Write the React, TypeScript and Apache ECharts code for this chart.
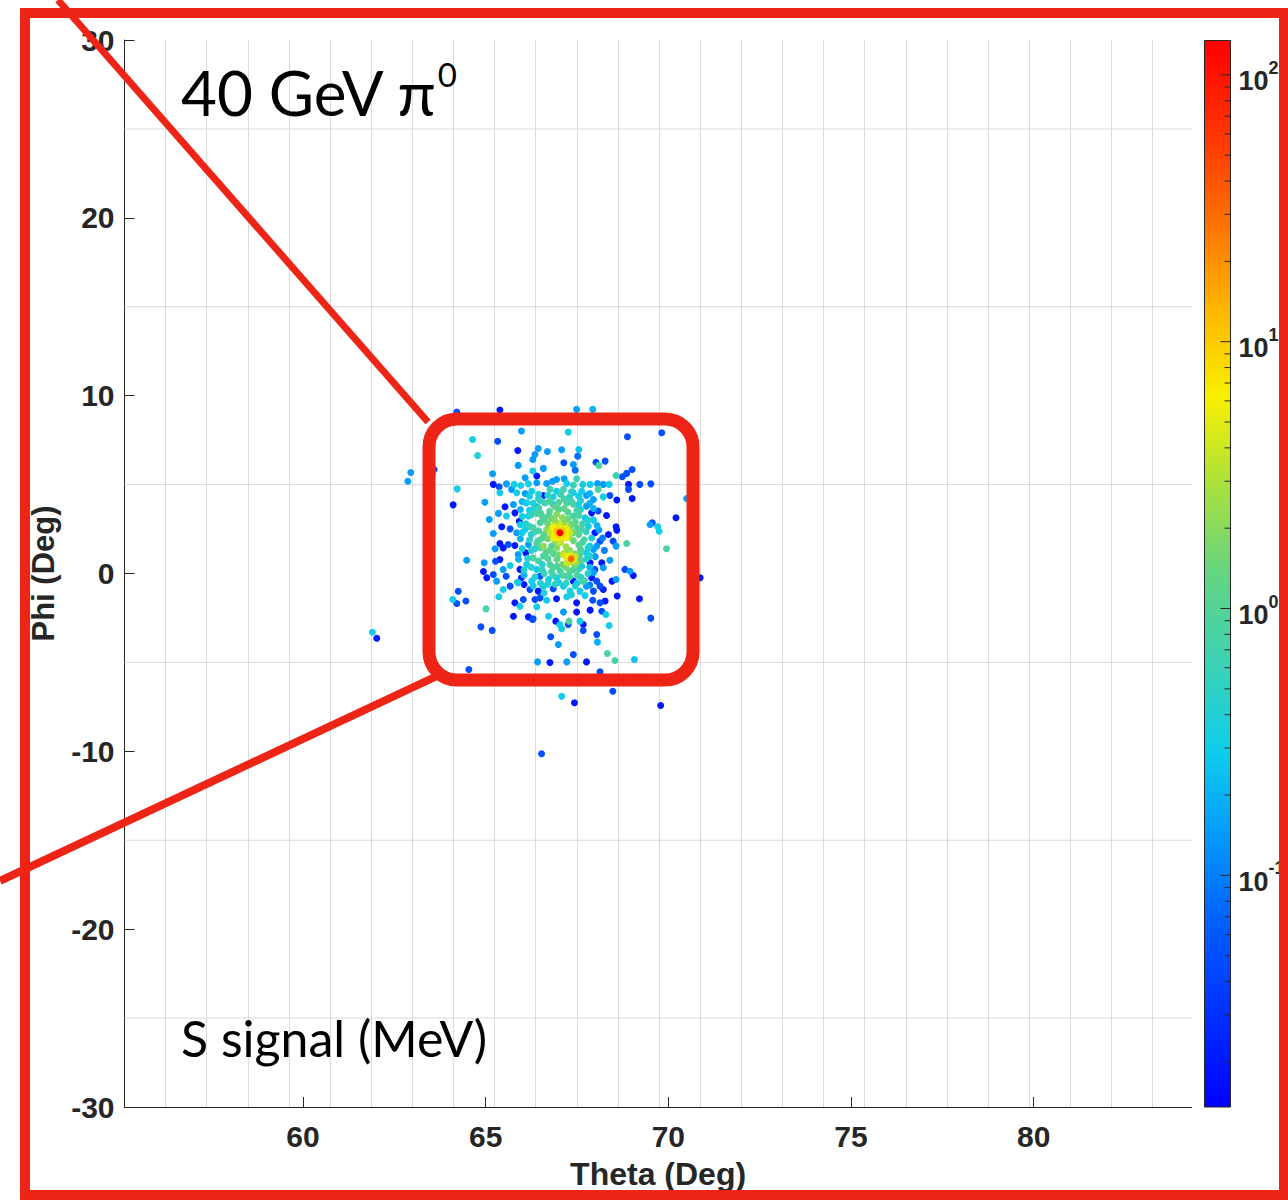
import React, { useEffect, useRef } from "react";
import * as echarts from "echarts";

// ---------- axes ----------
const THETA_MIN = 55.115;
const THETA_MAX = 84.325;
const PHI_MIN = -30;
const PHI_MAX = 30;
const PHI_TICK_STEP = 10;
const THETA_TICKS = [60, 65, 70, 75, 80];
const THETA_GRID_STEP = 1.1255;
const PHI_GRID = [-25, -15, -5, 5, 15, 25];

// ---------- colour bar (log scale) ----------
const CB_MIN = 0.01355;
const CB_MAX = 134.5;
const CB_MAJOR = [0.1, 1, 10, 100];
const CB_MINOR = [
  0.02, 0.03, 0.04, 0.05, 0.06, 0.07, 0.08, 0.09,
  0.2, 0.3, 0.4, 0.5, 0.6, 0.7, 0.8, 0.9,
  2, 3, 4, 5, 6, 7, 8, 9,
  20, 30, 40, 50, 60, 70, 80, 90,
];
// jet-like palette as it appears on screen (evenly spaced stops, low -> high)
const PALETTE = [
  "#0000ff", "#002eff", "#005cff", "#0397ff", "#10cdeb", "#3cd2b4", "#64d482",
  "#aae13c", "#f8f000", "#ffb400", "#ff6e00", "#ff3200", "#ff0000",
];

// ---------- hits: [theta (deg), phi (deg), S signal (MeV)] ----------
const hotSpots = [
  [67.035, 2.29, 134],
  [67.34, 0.83, 30],
];

const coreYellow = [
  [66.95, 2.4, 12], [67.1, 2.4, 10], [66.98, 2.15, 10], [67.12, 2.18, 8],
  [66.9, 2.25, 6], [67.18, 2.3, 6], [67.04, 2.55, 5], [67.03, 2.02, 5],
  [67.28, 0.9, 6], [67.4, 0.78, 5], [67.33, 1.05, 4], [67.3, 0.65, 3],
  [66.85, 2.55, 6], [67.2, 2.55, 5], [66.85, 2.0, 5], [67.2, 2.0, 6],
  [67.03, 2.75, 4], [67.03, 1.85, 4], [66.78, 2.3, 4], [67.3, 2.3, 4],
  [67.2, 0.95, 5], [67.45, 0.95, 4], [67.25, 0.6, 4], [67.45, 0.65, 3],
];

const coreGreenYellow = [
  [66.8, 2.5, 2.5], [66.85, 2.05, 2.5], [67.25, 2.6, 2], [67.28, 2.05, 2.5],
  [67.0, 2.8, 2], [67.05, 1.75, 3], [67.2, 1.5, 2.5], [66.9, 1.8, 2],
  [67.3, 1.3, 2], [67.15, 1.15, 2.5], [67.45, 1.1, 1.5], [67.45, 0.5, 1.5],
  [67.2, 0.35, 1.5],
];

const coreGreen = [
  [66.6, 3.0, 1], [66.75, 3.5, 1], [67.0, 3.6, 1], [67.25, 3.45, 1],
  [67.45, 2.9, 1], [67.55, 2.2, 1], [67.55, 1.6, 1], [66.55, 2.0, 1],
  [66.65, 1.2, 1], [66.95, 0.8, 1.2], [66.95, 0.4, 1], [67.6, 0.7, 1],
  [67.1, -0.1, 0.8], [66.8, 0.1, 0.8], [67.5, -0.1, 0.8], [67.7, 1.9, 0.8],
  [66.45, 2.4, 0.8], [66.5, 3.4, 0.8], [67.4, 3.9, 0.8], [67.15, 4.2, 0.7],
];

const coreCyan = [
  [66.3, 3.6, 0.4], [66.25, 2.2, 0.4], [66.35, 1.4, 0.4], [66.55, 0.5, 0.4],
  [66.7, -0.6, 0.4], [67.0, -0.5, 0.4], [67.45, -0.7, 0.4], [67.8, 0.0, 0.4],
  [67.85, 1.0, 0.4], [67.9, 2.0, 0.4], [67.8, 3.0, 0.4], [67.6, 3.6, 0.4],
  [66.85, 4.3, 0.4], [66.45, 4.2, 0.4], [67.35, 4.6, 0.4], [66.1, 2.8, 0.4],
  [66.05, 0.2, 0.4], [66.6, -1.1, 0.4], [67.35, -1.2, 0.4], [67.7, -0.4, 0.4],
];

const coreFill = [
  [66.2, 4.35, 0.3], [66.45, 4.45, 0.4], [66.7, 4.4, 0.5], [67.05, 4.45, 0.6],
  [67.3, 4.3, 0.5], [67.55, 4.35, 0.3], [67.85, 4.5, 0.2],
  [66.0, 4.05, 0.2], [66.3, 3.95, 0.4], [66.5, 4.1, 0.5], [66.75, 4.05, 0.8],
  [67.0, 4.0, 0.9], [67.35, 4.05, 0.7], [67.6, 4.1, 0.4], [67.85, 3.95, 0.2],
  [65.95, 3.6, 0.2], [66.2, 3.55, 0.3], [66.45, 3.7, 0.6], [66.9, 3.75, 1.2],
  [67.15, 3.65, 1.2], [67.5, 3.55, 0.7], [67.95, 3.65, 0.2],
  [66.0, 3.2, 0.3], [66.25, 3.3, 0.5], [66.55, 3.2, 1], [66.8, 3.1, 1.5],
  [67.1, 3.15, 2], [67.25, 3.05, 1.5], [67.55, 3.25, 0.8], [67.95, 3.0, 0.3],
  [65.95, 2.75, 0.3], [66.2, 2.65, 0.5], [66.7, 2.8, 1.5], [66.9, 2.95, 2],
  [67.15, 2.85, 2], [67.35, 2.75, 1.5], [67.65, 2.8, 0.7], [68.05, 2.7, 0.2],
  [66.0, 2.3, 0.3], [66.35, 2.35, 0.6], [66.6, 2.2, 1.2], [67.3, 2.45, 2],
  [67.5, 2.55, 1], [67.75, 2.35, 0.5], [68.1, 2.45, 0.15],
  [65.95, 1.95, 0.2], [66.2, 1.9, 0.5], [66.45, 1.85, 0.8], [66.7, 1.95, 1.5],
  [67.4, 1.85, 1.5], [67.65, 1.75, 0.8], [67.85, 1.55, 0.3], [68.2, 2.0, 0.1],
  [66.0, 1.4, 0.3], [66.25, 1.3, 0.5], [66.5, 1.45, 0.9], [66.75, 1.3, 1.2],
  [66.95, 1.45, 2], [67.6, 1.35, 1], [67.8, 1.45, 0.4], [68.25, 1.3, 0.1],
  [65.9, 0.8, 0.2], [66.15, 0.85, 0.4], [66.45, 0.7, 0.7], [66.7, 0.85, 1],
  [67.0, 1.05, 1.5], [67.55, 0.9, 0.9], [67.75, 0.8, 0.4], [68.0, 0.95, 0.15],
  [66.25, 0.35, 0.4], [66.55, 0.2, 0.6], [66.85, 0.35, 0.9], [67.1, 0.5, 1.5],
  [67.3, 0.1, 1], [67.55, 0.25, 0.6], [67.85, 0.35, 0.2],
  [66.05, -0.1, 0.2], [66.35, -0.2, 0.4], [66.6, 0.0, 0.6], [66.85, -0.1, 0.6],
  [67.3, -0.2, 0.7], [67.6, -0.2, 0.4], [67.95, 0.05, 0.15],
  [66.3, -0.7, 0.3], [66.5, -0.55, 0.4], [66.9, -0.6, 0.5], [67.2, -0.55, 0.5],
  [67.5, -0.55, 0.3], [67.85, -0.65, 0.1],
];

const clusterTop = [
  [64.21, 9.08, 0.05], [65.39, 9.19, 0.02], [67.49, 9.23, 0.15], [67.93, 9.23, 0.2],
  [65.98, 8.01, 0.15], [67.26, 7.95, 0.3], [64.64, 7.54, 0.3], [65.33, 7.44, 0.05],
  [68.88, 7.69, 0.05], [69.82, 7.91, 0.05], [64.78, 6.64, 0.4], [65.88, 6.92, 0.02],
  [66.44, 7.03, 0.15], [66.69, 6.86, 0.15], [67.08, 6.96, 0.15], [67.55, 6.97, 0.25],
  [66.35, 6.69, 0.15], [66.29, 6.41, 0.15], [67.52, 6.6, 0.08], [68.02, 6.26, 0.05],
  [68.27, 6.32, 0.05], [68.1, 6.08, 0.8], [67.14, 6.23, 0.05], [67.4, 6.13, 0.15],
  [65.89, 6.08, 0.15], [67.45, 5.81, 0.08], [66.58, 5.91, 0.15], [66.29, 5.76, 0.3],
  [69.01, 5.85, 0.05], [68.86, 5.63, 0.05], [68.57, 5.51, 0.7], [68.74, 5.44, 0.05],
  [65.19, 5.61, 0.15], [62.87, 5.19, 0.15], [62.95, 5.68, 0.15], [63.59, 5.85, 0.05],
  [63.55, 5.68, 0.15], [66.4, 5.48, 0.02], [66.94, 5.29, 0.15], [67.15, 5.33, 0.15],
  [67.49, 5.33, 0.6], [66.08, 5.38, 0.15],
];

const clusterBand = [
  [65.21, 5.01, 0.02], [65.37, 4.88, 0.05], [65.57, 5.04, 0.15], [65.78, 5.01, 0.3],
  [65.96, 4.95, 0.3], [66.17, 5.04, 0.3], [66.4, 5.1, 0.15], [66.67, 5.06, 0.15],
  [66.83, 5.19, 0.15], [67.22, 5.06, 0.3], [67.4, 4.97, 0.6], [67.66, 5.01, 0.3],
  [67.86, 5.01, 0.3], [68.06, 5.06, 0.15], [68.22, 5.01, 0.15], [68.38, 5.01, 0.3],
  [68.91, 5.01, 0.02], [69.22, 5.01, 0.05], [69.52, 5.04, 0.05], [64.22, 4.76, 0.3],
  [68.91, 4.73, 0.05], [69.01, 4.22, 0.02], [70.5, 4.22, 0.15], [64.11, 3.86, 0.02],
  [64.98, 4.01, 0.15],
];

const clusterUpper = [
  [65.39, 4.54, 0.3], [65.71, 4.73, 0.15], [65.85, 4.54, 0.3], [66.08, 4.5, 0.15],
  [66.26, 4.63, 0.3], [66.58, 4.39, 0.02], [66.76, 4.73, 0.6], [66.94, 4.63, 0.3],
  [67.13, 4.73, 0.7], [67.4, 4.54, 0.3], [67.63, 4.63, 0.3], [67.76, 4.39, 0.15],
  [68.08, 4.73, 0.8], [68.22, 4.31, 0.3], [68.4, 4.39, 0.05], [68.59, 4.13, 0.02],
  [67.95, 4.16, 0.15], [65.53, 3.75, 0.02], [65.76, 3.88, 0.15], [66.12, 3.97, 0.3],
  [66.4, 3.75, 0.15], [66.62, 3.97, 0.7], [66.85, 3.88, 0.3], [67.22, 3.97, 0.8],
  [67.54, 3.88, 0.3], [67.76, 3.79, 0.15], [67.9, 3.41, 0.02], [68.08, 3.51, 0.05],
  [68.31, 3.26, 0.02], [68.57, 2.63, 0.02], [65.1, 3.04, 0.15], [65.35, 3.38, 0.15],
  [65.57, 3.23, 0.3], [65.8, 3.41, 0.02], [65.92, 2.94, 0.02], [66.17, 3.23, 0.3],
  [66.4, 3.38, 0.8], [66.72, 3.23, 0.9], [66.94, 3.32, 2], [67.4, 3.23, 0.8],
  [67.72, 3.13, 0.3],
];

const clusterMiddle = [
  [65.21, 2.25, 0.15], [65.44, 2.63, 0.02], [65.67, 2.51, 0.05], [65.85, 2.29, 0.15],
  [66.08, 2.47, 0.3], [66.3, 2.57, 0.8], [66.49, 2.85, 0.8], [66.67, 2.47, 2],
  [66.85, 2.66, 5], [66.94, 2.01, 6], [67.17, 2.1, 6], [67.22, 2.47, 5],
  [67.4, 2.29, 1.5], [67.63, 2.47, 0.8], [67.81, 2.66, 0.3], [67.99, 2.29, 0.02],
  [68.13, 1.82, 0.05], [68.36, 2.19, 0.02], [68.49, 1.82, 0.05], [68.59, 2.44, 0.02],
  [68.86, 1.69, 0.8], [69.5, 2.76, 0.15], [69.56, 2.85, 0.05], [69.71, 2.63, 0.3],
  [69.75, 2.38, 0.3], [70.21, 3.13, 0.02], [69.95, 1.39, 0.8], [65.26, 1.39, 0.15],
  [65.39, 1.69, 0.02], [65.48, 1.44, 0.02], [65.62, 1.63, 0.05], [65.8, 1.57, 0.02],
  [66.17, 1.63, 0.15], [66.4, 1.73, 0.8], [66.58, 1.54, 2], [66.81, 1.54, 0.8],
];

const clusterLower = [
  [64.48, 0.75, 0.15], [65.39, 0.79, 0.02], [65.89, 1.07, 0.15], [66.1, 1.16, 0.02],
  [66.3, 0.88, 0.8], [66.58, 0.98, 0.8], [66.85, 1.13, 0.9], [67.13, 1.07, 4],
  [67.22, 0.6, 4], [67.58, 1.07, 0.8], [67.76, 1.16, 0.3], [67.95, 1.35, 0.15],
  [68.04, 1.54, 0.15], [68.18, 0.6, 0.02], [68.4, 0.75, 0.15], [68.57, 1.54, 0.15],
  [64.96, 0.6, 0.15], [64.94, 0.11, 0.02], [65.27, 0.69, 0.05], [65.03, -0.24, 0.02],
  [65.21, -0.06, 0.05], [65.48, 0.23, 0.15], [65.67, 0.45, 0.3], [65.94, 0.23, 0.02],
  [66.12, 0.51, 0.3], [66.4, 0.23, 0.3], [66.76, 0.51, 0.8], [67.04, 0.13, 0.8],
  [67.4, 0.23, 0.8], [67.63, 0.41, 0.3], [67.86, 0.6, 0.02], [67.99, 0.23, 0.05],
  [68.22, 0.32, 0.15], [68.81, 0.23, 0.05], [69.04, -0.11, 0.02], [68.95, 0.13, 0.15],
];

const clusterBottom = [
  [65.3, -0.43, 0.15], [65.56, -0.15, 0.05], [65.89, -0.52, 0.3], [65.98, -0.24, 0.02],
  [66.26, -0.43, 0.3], [66.49, -0.15, 0.05], [66.72, -0.34, 0.3], [66.94, -0.24, 0.3],
  [67.22, -0.15, 0.8], [67.4, -0.43, 0.02], [67.67, -0.43, 0.8], [67.9, -0.24, 0.02],
  [68.04, -0.43, 0.05], [68.13, -0.71, 0.05], [68.46, -0.43, 0.02], [68.57, -0.34, 0.15],
  [65.48, -0.9, 0.3], [65.67, -0.71, 0.05], [65.87, -0.49, 0.3], [66.05, -0.62, 0.02],
  [66.21, -0.9, 0.05], [66.44, -0.99, 0.02], [66.58, -0.71, 0.3], [66.85, -0.86, 0.05],
  [67.13, -0.71, 0.3], [67.31, -0.99, 0.3], [67.58, -0.99, 0.3], [67.76, -0.71, 0.15],
  [67.95, -0.99, 0.05], [68.22, -0.9, 0.02], [64.25, -1.0, 0.05], [64.1, -1.46, 0.3],
  [64.21, -1.69, 0.05], [64.46, -1.55, 0.05], [65.01, -1.99, 0.9], [65.36, -1.31, 0.3],
  [65.8, -1.65, 0.02], [66.03, -1.46, 0.05], [66.35, -1.46, 0.05], [66.49, -1.37, 0.05],
  [66.67, -1.5, 0.3], [66.94, -1.42, 0.02], [67.22, -1.31, 0.3], [67.49, -1.65, 0.02],
  [67.72, -1.24, 0.3], [67.93, -1.5, 0.05], [68.13, -1.65, 0.05], [68.27, -1.55, 0.02],
  [68.6, -1.27, 0.02], [69.21, -1.42, 0.02], [70.87, -0.24, 0.02], [65.76, -2.4, 0.02],
  [65.94, -1.84, 0.3], [66.17, -2.44, 0.02], [66.3, -2.55, 0.05], [66.4, -1.87, 0.3],
  [66.72, -2.4, 0.3], [67.13, -2.17, 0.15], [67.49, -2.17, 0.02], [67.86, -2.06, 0.02],
  [68.18, -2.12, 0.05], [68.29, -2.31, 0.3], [69.52, -2.51, 0.05],
];

const lowerTail = [
  [64.87, -3.0, 0.05], [65.18, -3.2, 0.05], [66.78, -3.56, 0.05], [66.99, -3.99, 0.15],
  [67.67, -2.87, 0.02], [67.67, -3.2, 0.05], [68.04, -3.43, 0.05], [68.06, -3.86, 0.2],
  [68.38, -2.92, 0.3], [67.4, -4.56, 0.05], [68.33, -4.5, 0.8], [68.54, -4.89, 0.8],
  [69.07, -4.84, 0.25], [66.42, -4.97, 0.15], [66.76, -5.0, 0.02], [67.22, -4.97, 0.15],
  [67.76, -4.97, 0.02], [68.13, -5.53, 0.05], [64.54, -5.4, 0.05], [64.84, -6.02, 0.02],
  [67.08, -6.02, 0.02], [67.72, -5.96, 0.3], [69.22, -5.83, 0.05], [68.48, -6.62, 0.05],
  [67.08, -6.9, 0.3], [67.43, -7.27, 0.02], [69.79, -7.42, 0.02], [66.53, -10.14, 0.05],
  [66.28, -2.59, 0.05], [66.92, -2.68, 0.02], [67.28, -2.68, 0.8], [67.58, -2.68, 0.3],
  [67.03, -2.87, 0.3], [67.08, -3.11, 0.3], [67.26, -2.87, 0.05],
];

const farOutliers = [
  [61.9, -3.3, 0.3],
  [62.02, -3.64, 0.02],
];

// ---------- styling ----------
const AXIS_COLOR = "#262626";
const GRID_COLOR = "#dadada";
const ANNOT_RED = "#ee2416";
const AXIS_FONT = '"Liberation Sans", Arial, Helvetica, sans-serif';
const TEXT_FONT = 'Lato, "Noto Sans", "DejaVu Sans", sans-serif';

export default function App() {
  const ref = useRef<HTMLDivElement | null>(null);

  useEffect(() => {
    if (!ref.current) return;
    const chart = echarts.init(ref.current, null, { renderer: "svg" });

    const hits = [
      ...farOutliers, ...lowerTail, ...clusterTop, ...clusterBand, ...clusterUpper,
      ...clusterMiddle, ...clusterLower, ...clusterBottom, ...coreFill, ...coreCyan,
      ...coreGreen, ...coreGreenYellow, ...coreYellow, ...hotSpots,
    ]
      .slice()
      .sort((a, b) => a[2] - b[2])
      .map(([t, p, v]) => [t, p, Math.log10(v), v]);

    const cbTicks = [
      ...CB_MAJOR.map((v) => [1, v, 10]),
      ...CB_MINOR.map((v) => [1, v, 6]),
    ];

    const gradient = new echarts.graphic.LinearGradient(
      0, 1, 0, 0,
      PALETTE.map((c, i) => ({ offset: i / (PALETTE.length - 1), color: c }))
    );

    const tickLabelStyle = {
      fontFamily: AXIS_FONT,
      fontSize: 30,
      fontWeight: "bold" as const,
      color: AXIS_COLOR,
    };

    const option: any = {
      animation: false,
      backgroundColor: "#ffffff",
      grid: [
        { left: 124.5, top: 40, width: 1067.2, height: 1067 },
        { left: 1204.5, top: 40.5, width: 26, height: 1066.5 },
      ],
      xAxis: [
        {
          type: "value",
          gridIndex: 0,
          min: THETA_MIN,
          max: THETA_MAX,
          name: "Theta (Deg)",
          nameLocation: "middle",
          nameGap: 51,
          nameTextStyle: { ...tickLabelStyle, fontSize: 32 },
          axisLine: { show: true, onZero: false, lineStyle: { color: AXIS_COLOR, width: 1 } },
          axisTick: {
            show: true,
            inside: true,
            length: 10,
            customValues: THETA_TICKS,
            lineStyle: { color: AXIS_COLOR, width: 1 },
          },
          axisLabel: { customValues: THETA_TICKS, margin: 14, ...tickLabelStyle },
          splitLine: { show: false },
        },
        {
          type: "value",
          gridIndex: 0,
          position: "top",
          min: THETA_MIN,
          max: THETA_MAX,
          interval: THETA_GRID_STEP,
          axisLine: { show: false },
          axisTick: { show: false },
          axisLabel: { show: false },
          splitLine: {
            show: true,
            showMinLine: false,
            showMaxLine: false,
            lineStyle: { color: GRID_COLOR, width: 1 },
          },
        },
        { type: "value", gridIndex: 1, min: 0, max: 1, show: false },
      ],
      yAxis: [
        {
          type: "value",
          gridIndex: 0,
          min: PHI_MIN,
          max: PHI_MAX,
          interval: PHI_TICK_STEP,
          name: "Phi (Deg)",
          nameLocation: "middle",
          nameGap: 66,
          nameTextStyle: { ...tickLabelStyle, fontSize: 31 },
          axisLine: { show: true, onZero: false, lineStyle: { color: AXIS_COLOR, width: 1 } },
          axisTick: { show: true, inside: true, length: 10, lineStyle: { color: AXIS_COLOR, width: 1 } },
          axisLabel: { margin: 10, ...tickLabelStyle },
          splitLine: { show: false },
        },
        {
          type: "log",
          logBase: 10,
          gridIndex: 1,
          min: CB_MIN,
          max: CB_MAX,
          position: "right",
          axisLine: { show: false },
          axisTick: { show: false },
          splitLine: { show: false },
          axisLabel: {
            margin: 8,
            showMinLabel: false,
            showMaxLabel: false,
            formatter: (v: number) => `{b|10}{e|${Math.round(Math.log10(v))}}`,
            rich: {
              b: {
                fontFamily: AXIS_FONT,
                fontSize: 27,
                fontWeight: "bold",
                color: AXIS_COLOR,
                lineHeight: 40,
                verticalAlign: "bottom",
              },
              e: {
                fontFamily: AXIS_FONT,
                fontSize: 18,
                fontWeight: "bold",
                color: AXIS_COLOR,
                lineHeight: 24,
                verticalAlign: "top",
                padding: [4, 0, 0, 0],
              },
            },
          },
        },
      ],
      visualMap: {
        type: "continuous",
        show: false,
        seriesIndex: 1,
        dimension: 2,
        min: Math.log10(CB_MIN),
        max: Math.log10(CB_MAX),
        inRange: { color: PALETTE },
      },
      series: [
        {
          type: "custom",
          name: "phi grid",
          xAxisIndex: 0,
          yAxisIndex: 0,
          z: 1,
          silent: true,
          data: PHI_GRID.map((v) => [THETA_MIN, v]),
          renderItem: (_p: any, api: any) => {
            const a = api.coord([THETA_MIN, api.value(1)]);
            const b = api.coord([THETA_MAX, api.value(1)]);
            return {
              type: "line",
              shape: { x1: a[0], y1: a[1], x2: b[0], y2: b[1] },
              style: { stroke: GRID_COLOR, lineWidth: 1 },
            };
          },
        },
        {
          type: "scatter",
          name: "S signal",
          xAxisIndex: 0,
          yAxisIndex: 0,
          z: 3,
          symbol: "circle",
          symbolSize: 7,
          itemStyle: { opacity: 1 },
          data: hits,
        },
        {
          type: "custom",
          name: "colorbar",
          xAxisIndex: 2,
          yAxisIndex: 1,
          z: 2,
          silent: true,
          data: [[0, CB_MIN]],
          renderItem: (_p: any, api: any) => {
            const tl = api.coord([0, CB_MAX]);
            const br = api.coord([1, CB_MIN]);
            return {
              type: "rect",
              shape: { x: tl[0], y: tl[1], width: br[0] - tl[0], height: br[1] - tl[1] },
              style: { fill: gradient, stroke: AXIS_COLOR, lineWidth: 1 },
            };
          },
        },
        {
          type: "custom",
          name: "colorbar ticks",
          xAxisIndex: 2,
          yAxisIndex: 1,
          z: 4,
          silent: true,
          data: cbTicks,
          renderItem: (_p: any, api: any) => {
            const p = api.coord([1, api.value(1)]);
            const len = api.value(2);
            return {
              type: "line",
              shape: { x1: p[0] - len, y1: p[1], x2: p[0], y2: p[1] },
              style: { stroke: AXIS_COLOR, lineWidth: 1 },
            };
          },
        },
      ],
      graphic: [
        {
          type: "text",
          z: 50,
          x: 181,
          y: 57,
          style: {
            text: "{a|40 GeV π}{s|0}",
            rich: {
              a: { fontFamily: TEXT_FONT, fontSize: 62, color: "#000", lineHeight: 66, verticalAlign: "bottom" },
              s: { fontFamily: TEXT_FONT, fontSize: 33, color: "#000", lineHeight: 38, verticalAlign: "top" },
            },
            verticalAlign: "top",
            align: "left",
          },
        },
        {
          type: "text",
          z: 50,
          x: 181,
          y: 1038,
          style: {
            text: "S signal (MeV)",
            fontFamily: TEXT_FONT,
            fontSize: 50,
            fill: "#000",
            verticalAlign: "middle",
            align: "left",
          },
        },
        // hand-drawn red annotations
        {
          type: "rect",
          z: 60,
          shape: { x: 25, y: 13, width: 1259, height: 1182 },
          style: { fill: "none", stroke: ANNOT_RED, lineWidth: 10 },
        },
        {
          type: "rect",
          z: 60,
          shape: { x: 429, y: 419, width: 264, height: 261, r: 28 },
          style: { fill: "none", stroke: ANNOT_RED, lineWidth: 13 },
        },
        {
          type: "line",
          z: 60,
          shape: { x1: 58, y1: 0, x2: 428, y2: 422 },
          style: { stroke: ANNOT_RED, lineWidth: 7 },
        },
        {
          type: "line",
          z: 60,
          shape: { x1: 0, y1: 881, x2: 437, y2: 676 },
          style: { stroke: ANNOT_RED, lineWidth: 8 },
        },
      ],
    };

    chart.setOption(option);
    return () => chart.dispose();
  }, []);

  return (
    <div
      ref={ref}
      style={{ position: "fixed", left: 0, top: 0, width: 1288, height: 1200, background: "#fff" }}
    />
  );
}
